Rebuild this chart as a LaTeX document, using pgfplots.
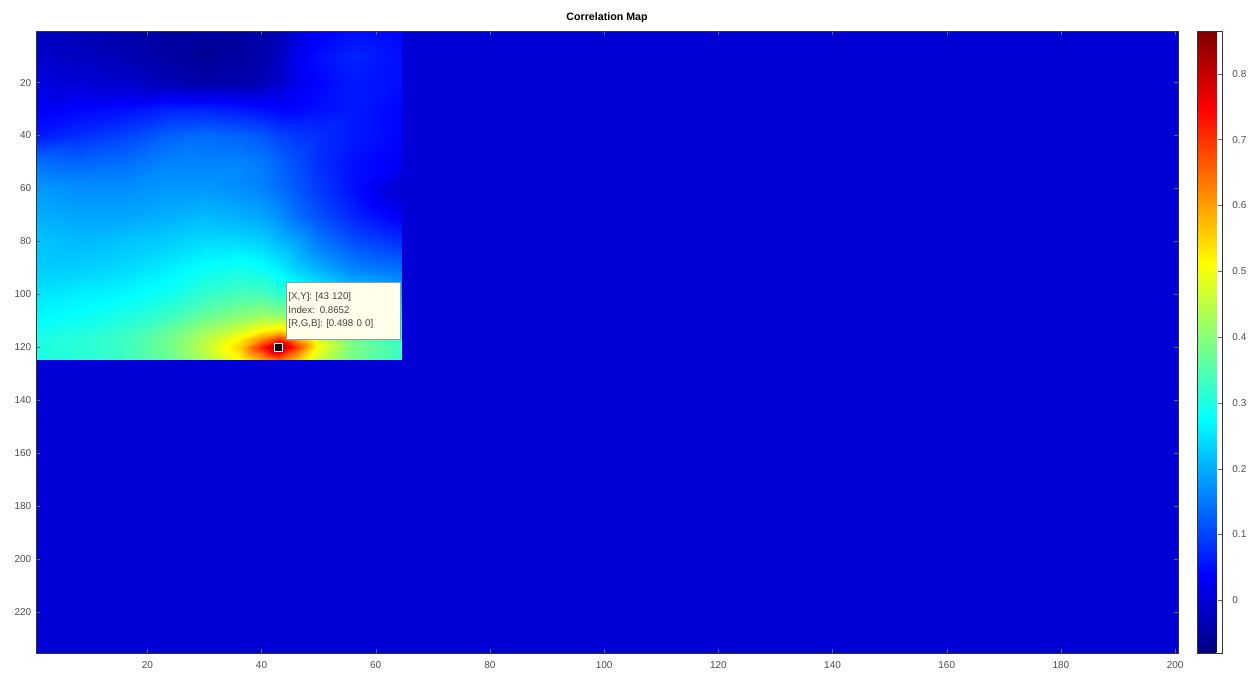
\documentclass[border=0pt]{standalone}
\usepackage{fontspec}
\setmainfont{Liberation Sans}
\usepackage{pgfplots}
\pgfplotsset{compat=1.18}
\definecolor{tipbg}{RGB}{255,255,235}
\begin{document}
\begin{tikzpicture}
\begin{axis}[
  name=main,
  scale only axis,
  width=856.5pt, height=466.5pt,
  xmin=0.5, xmax=200.5, ymin=0.5, ymax=235.5,
  y dir=reverse,
  axis on top,
  axis line style={black!80, line width=0.4pt},
  xtick={20,40,...,200}, ytick={20,40,...,220},
  tick align=inside,
  major tick length=3pt,
  tick style={black!60},
  tick label style={font=\fontsize{7.5}{9}\selectfont, text=black!70},
  xticklabel style={yshift=-3pt},
  /pgf/number format/assume math mode=true,
  title={\textbf{Correlation Map}},
  title style={font=\fontsize{8}{10}\selectfont, yshift=-3pt},
  colormap/jet,
  point meta min=-0.08, point meta max=0.865,
  colorbar,
  colorbar style={
    at={(parent axis.north east)}, anchor=north west, xshift=6pt,
    width=18.75pt,
    ytick={0,0.1,0.2,0.3,0.4,0.5,0.6,0.7,0.8},
    ytick pos=right,
    yticklabel style={font=\fontsize{7.5}{9}\selectfont, text=black!70, xshift=4pt,
      /pgf/number format/fixed, /pgf/number format/precision=1},
    /pgf/number format/assume math mode=true,
    tick align=inside, major tick length=3pt,
    axis line style={black!80, line width=0.4pt},
  },
]
% background (zero correlation)
\addplot[surf, shader=flat, mesh/cols=2, point meta=explicit] coordinates {
(0.5,0.5) [0] (200.5,0.5) [0]
(0.5,235.5) [0] (200.5,235.5) [0]
};
% correlation region
\addplot[surf, shader=interp, mesh/cols=12, point meta=explicit] coordinates {
(0.5,0.5)[-0.02] (8,0.5)[-0.03] (16,0.5)[-0.04] (24,0.5)[-0.05] (30,0.5)[-0.05] (36,0.5)[-0.05] (40,0.5)[-0.04] (43,0.5)[-0.03] (46,0.5)[0.00] (50,0.5)[0.03] (56,0.5)[0.05] (64.5,0.5)[0.04]
(0.5,10)[-0.01] (8,10)[-0.02] (16,10)[-0.03] (24,10)[-0.05] (30,10)[-0.06] (36,10)[-0.05] (40,10)[-0.04] (43,10)[-0.02] (46,10)[0.02] (50,10)[0.05] (56,10)[0.07] (64.5,10)[0.05]
(0.5,20)[0.01] (8,20)[0.00] (16,20)[-0.01] (24,20)[-0.03] (30,20)[-0.04] (36,20)[-0.04] (40,20)[-0.03] (43,20)[-0.01] (46,20)[0.02] (50,20)[0.04] (56,20)[0.06] (64.5,20)[0.05]
(0.5,30)[0.03] (8,30)[0.04] (16,30)[0.05] (24,30)[0.07] (30,30)[0.07] (36,30)[0.06] (40,30)[0.05] (43,30)[0.04] (46,30)[0.04] (50,30)[0.05] (56,30)[0.06] (64.5,30)[0.04]
(0.5,40)[0.06] (8,40)[0.08] (16,40)[0.10] (24,40)[0.13] (30,40)[0.14] (36,40)[0.13] (40,40)[0.12] (43,40)[0.10] (46,40)[0.09] (50,40)[0.08] (56,40)[0.06] (64.5,40)[0.04]
(0.5,50)[0.14] (8,50)[0.13] (16,50)[0.14] (24,50)[0.16] (30,50)[0.16] (36,50)[0.16] (40,50)[0.15] (43,50)[0.13] (46,50)[0.11] (50,50)[0.08] (56,50)[0.05] (64.5,50)[0.03]
(0.5,60)[0.18] (8,60)[0.17] (16,60)[0.17] (24,60)[0.18] (30,60)[0.18] (36,60)[0.17] (40,60)[0.16] (43,60)[0.14] (46,60)[0.12] (50,60)[0.09] (56,60)[0.05] (64.5,60)[-0.01]
(0.5,70)[0.20] (8,70)[0.19] (16,70)[0.19] (24,70)[0.20] (30,70)[0.21] (36,70)[0.20] (40,70)[0.19] (43,70)[0.17] (46,70)[0.14] (50,70)[0.11] (56,70)[0.07] (64.5,70)[0.03]
(0.5,80)[0.22] (8,80)[0.21] (16,80)[0.22] (24,80)[0.23] (30,80)[0.24] (36,80)[0.24] (40,80)[0.23] (43,80)[0.21] (46,80)[0.19] (50,80)[0.15] (56,80)[0.11] (64.5,80)[0.08]
(0.5,90)[0.23] (8,90)[0.23] (16,90)[0.24] (24,90)[0.26] (30,90)[0.28] (36,90)[0.29] (40,90)[0.28] (43,90)[0.26] (46,90)[0.23] (50,90)[0.20] (56,90)[0.16] (64.5,90)[0.14]
(0.5,100)[0.25] (8,100)[0.26] (16,100)[0.27] (24,100)[0.29] (30,100)[0.32] (36,100)[0.34] (40,100)[0.34] (43,100)[0.32] (46,100)[0.30] (50,100)[0.27] (56,100)[0.23] (64.5,100)[0.20]
(0.5,108)[0.27] (8,108)[0.28] (16,108)[0.30] (24,108)[0.33] (30,108)[0.37] (36,108)[0.40] (40,108)[0.42] (43,108)[0.41] (46,108)[0.38] (50,108)[0.34] (56,108)[0.29] (64.5,108)[0.26]
(0.5,114)[0.29] (8,114)[0.30] (16,114)[0.32] (24,114)[0.37] (30,114)[0.42] (36,114)[0.47] (40,114)[0.52] (43,114)[0.55] (46,114)[0.49] (50,114)[0.42] (56,114)[0.34] (64.5,114)[0.30]
(0.5,117)[0.30] (8,117)[0.31] (16,117)[0.33] (24,117)[0.38] (30,117)[0.44] (36,117)[0.52] (40,117)[0.62] (43,117)[0.70] (46,117)[0.60] (50,117)[0.47] (56,117)[0.37] (64.5,117)[0.32]
(0.5,120)[0.30] (8,120)[0.31] (16,120)[0.33] (24,120)[0.38] (30,120)[0.45] (36,120)[0.55] (40,120)[0.72] (43,120)[0.865] (46,120)[0.70] (50,120)[0.50] (56,120)[0.39] (64.5,120)[0.33]
(0.5,124.5)[0.30] (8,124.5)[0.31] (16,124.5)[0.33] (24,124.5)[0.37] (30,124.5)[0.43] (36,124.5)[0.51] (40,124.5)[0.60] (43,124.5)[0.66] (46,124.5)[0.58] (50,124.5)[0.46] (56,124.5)[0.38] (64.5,124.5)[0.33]
};
% data tip marker
\addplot[only marks, mark=square*, mark size=3pt,
  mark options={fill=black, draw=white, line width=0.6pt}] coordinates {(43,120)};
\node[anchor=north west, fill=tipbg, draw=black!40, line width=0.3pt,
  font=\fontsize{7.3}{10}\selectfont, text=black!75, align=left,
  text width=82pt, minimum height=43pt, inner xsep=2pt, inner ysep=3pt]
  at (axis cs:44.2,95.2) {{[X,Y]: [43 120]}\\Index: 0.8652\\{[R,G,B]: [0.498 0 0]}};
\end{axis}
\path ([xshift=-27pt,yshift=-18pt]main.south west) rectangle ([xshift=60.75pt,yshift=23.25pt]main.north east);
\end{tikzpicture}
\end{document}
